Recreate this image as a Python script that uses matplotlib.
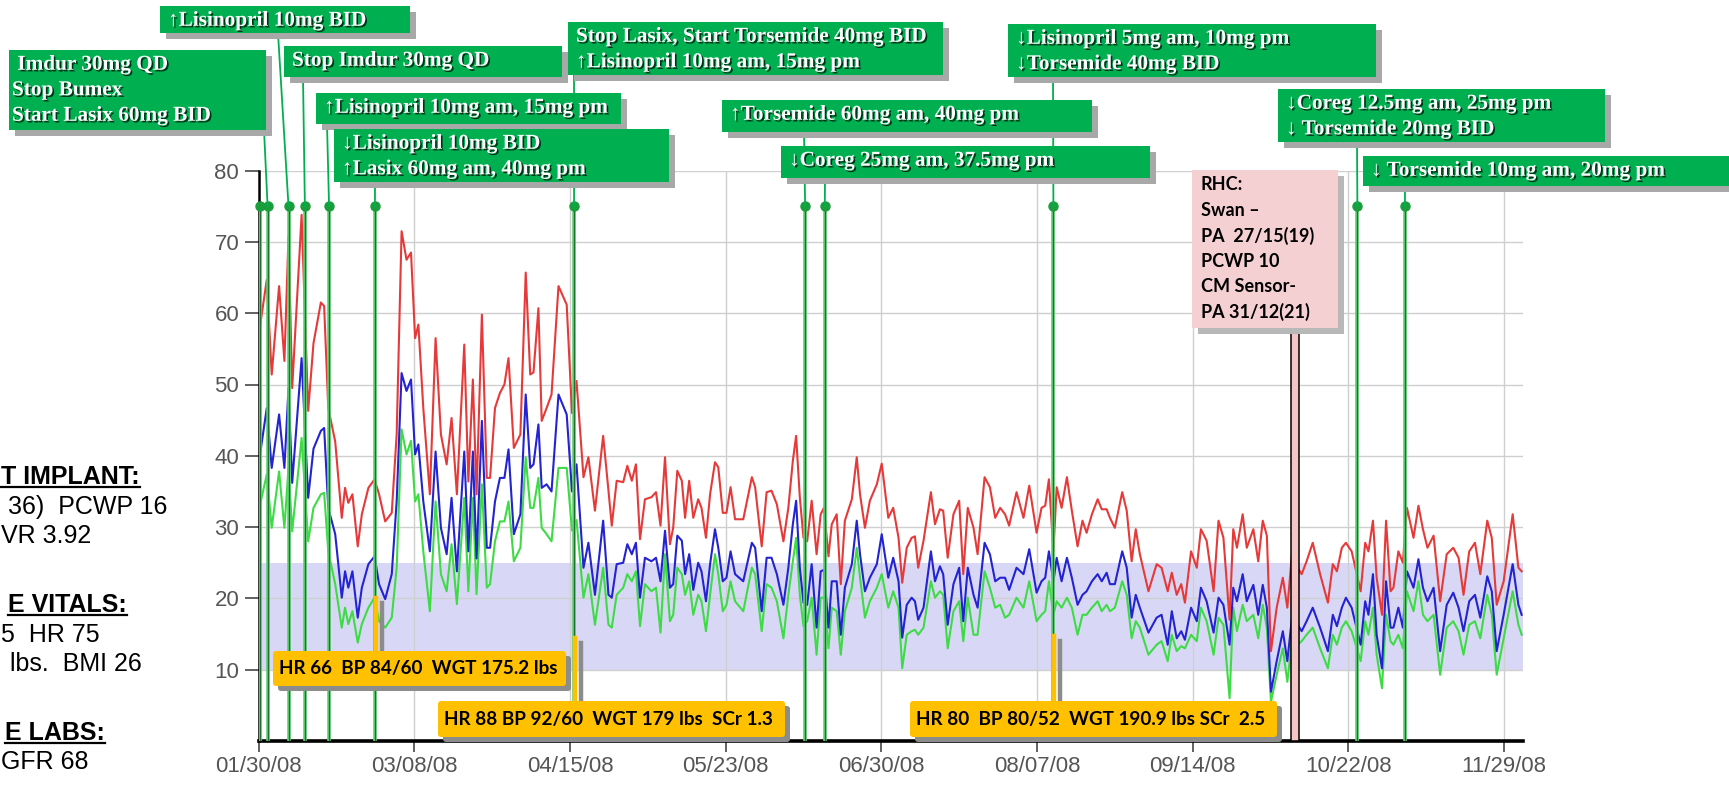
import numpy as np
import matplotlib
matplotlib.use("Agg")
import matplotlib.pyplot as plt
from matplotlib.patches import FancyBboxPatch, Rectangle
from matplotlib.lines import Line2D
from matplotlib.transforms import IdentityTransform
import matplotlib.patheffects as pe

# days after 01/30/08 and the three pressure traces
day = [0.3, 2.0, 3.2, 5.0, 6.3, 7.3, 8.2, 10.5, 12.1, 13.4, 15.2, 16.0, 17.0, 18.7, 20.3, 21.1, 21.9, 22.9,
       24.2, 25.2, 26.8, 28.3, 29.4, 30.9, 32.5, 33.7, 34.9, 36.1, 37.2, 38.2, 39.0, 40.2, 41.8, 43.2, 44.5,
       45.9, 47.1, 48.4, 50.2, 51.2, 52.3, 53.2, 54.5, 55.7, 56.5, 57.7, 58.9, 60.0, 61.0, 62.3, 63.9, 65.2,
       66.3, 67.1, 68.3, 69.1, 70.3, 71.5, 73.2, 75.2, 76.5, 77.6,
       79.3, 80.5, 82.1, 84.1, 85.4, 86.2, 87.4, 89.0, 90.0, 91.1, 92.1, 93.1, 94.3, 95.9, 97.0, 98.1, 99.2,
       100.4, 101.2, 102.2, 103.3, 104.1, 105.1, 106.1, 107.3, 108.1, 109.2, 110.2, 111.4, 112.2, 113.3,
       114.2, 115.2, 116.3, 118.3, 120.4, 121.2, 122.8, 124.0, 125.2, 126.5, 128.1, 129.3, 130.4, 131.2,
       132.1, 133.0, 133.9, 135.0, 136.2, 137.2, 138.0, 139.1, 139.9, 141.1, 142.1, 143.1, 144.8, 146.0,
       146.8, 148.0, 149.2, 150.9, 152.1,
       153.7, 154.9, 156.2, 157.1, 158.2, 159.4, 160.2, 161.0, 162.3, 164.1, 165.1, 166.3, 167.1, 168.2,
       169.6, 171.0, 172.0, 173.1, 174.5, 175.5, 177.2, 178.5, 179.8, 181.0, 182.2, 183.2, 185.0, 186.7,
       188.1, 189.9, 191.1, 192.0, 192.9, 194.0, 194.8, 196.0, 197.3, 198.5, 199.9, 201.1, 202.1, 203.4,
       204.8, 205.8, 207.0, 207.8, 209.0, 210.8, 211.9, 213.1, 214.1, 215.1, 217.2, 219.2, 220.4, 221.9,
       222.9, 224.1, 225.2, 226.1, 227.6, 229.0, 230.0,
       231.4, 233.1, 234.3, 235.5, 237.0, 237.9, 238.8, 240.2, 241.2, 242.8, 244.0, 245.1, 246.1, 247.1,
       248.5, 250.0, 251.1, 252.4, 253.6, 254.6, 255.8, 257.3, 259.1, 261.0, 262.2, 263.2, 264.4, 265.4,
       266.8, 269.0, 270.1, 270.9, 272.0, 272.9, 274.2, 275.2, 276.3, 277.0, 278.2, 279.3, 280.3, 281.9,
       283.1, 284.2, 285.3, 286.8, 288.4, 290.0, 291.6, 292.9, 294.1, 295.5, 296.9, 298.2, 299.9, 301.0,
       302.2, 303.9, 306.1, 307.5, 308.3]

red = [58, 64.7, 51.4, 63.8, 53.3, 70.8, 49.5, 73.8, 46.3, 55.8, 61.5, 61, 46.7, 42, 31.3, 35.5, 33.4, 34.6,
       27.3, 31.8, 35.5, 36.7, 34.6, 30.8, 32, 43, 71.5, 67.5, 68.5, 56.5, 58.4, 46.7, 34.6, 56.5, 43,
       38.8, 45.3, 34.6, 55.6, 36.4, 50.7, 34.6, 59.8, 36.9, 36.9, 46.7, 48.8, 50, 53.7, 41.1, 43, 65.7,
       51.4, 51.7, 60.7, 44.9, 46.7, 48.6, 63.8, 61.2, 46, 50.5,
       37, 39.8, 32.3, 42.8, 35.1, 30.2, 36.5, 36.3, 38.6, 36.5, 38.8, 28.3, 33.9, 34.2, 34.9, 30.2, 39.8,
       27.6, 29.9, 37.9, 36.5, 31.3, 36.5, 31.3, 33.9, 32.7, 28.5, 34.6, 39.1, 38.4, 32,
       32, 35.6, 31.1, 31.1, 37, 35.6, 27.3, 34.9, 35.1, 33.2, 28, 32.7, 39.3, 42.8,
       34.2, 28.5, 28, 33.7, 26.2, 31.8, 32.7, 25.9, 30.4, 31.8, 22, 30.9, 33.9, 39.8,
       34.6, 29.9, 33.7, 36, 38.9,
       31.3, 32.7, 28.5, 22.2, 27.1, 28.5, 28.7, 24.3, 28.1, 34.9, 30.4, 32.5, 32.3, 25.7,
       31.8, 33.7, 23.4, 32.7, 29.9, 26.2, 37, 35.6, 31.3, 32.7, 31.8, 30.2, 34.9, 31.3,
       35.8, 29.2, 32.7, 33, 36.7, 26.6, 35.6, 32.7, 37, 32.3, 27.3, 30.9, 29.2, 31.8,
       33.9, 32.5, 32.5, 31.3, 29.9, 34.9, 32.3, 25.2, 29.7, 26.2, 21, 24.8, 24.3, 21,
       23.6, 20.5, 22, 19.4, 26.6, 24.3, 29.7,
       28.1, 21, 30.9, 28.5, 17, 29.7, 27.1, 31.8, 27.1, 29.7, 25.2, 30.9, 28.8, 12.6,
       18.7, 22.9, 18.7, 27.3, 24.3, 23.4, 25.2, 27.8, 23.4, 19.4, 24.8, 23.8, 27.1, 27.8,
       26.6, 21, 27.8, 26.6, 30.9, 22.9, 17.7, 30.9, 21, 21.5, 26.6, 25, 32.7, 28.5,
       33, 29.7, 27.1, 28.8, 19.6, 26.2, 27.1, 25.7, 20.5, 26.6, 27.8, 23.4, 30.9, 28.5,
       19.1, 22.4, 31.8, 24.3, 23.8]

blue = [40, 46.7, 38.3, 45.8, 38.3, 49.5, 36.2, 53.7, 34.1, 41, 43.5, 43.9, 32.7, 29, 20.1, 23.8, 21.5, 23.8,
        17.3, 21.5, 24.8, 25.9, 22, 19.9, 23.4, 33.6, 51.6, 49.1, 50.7, 40.2, 41.6, 33.6, 26.6, 40.6, 29.9,
        26.2, 34.1, 23.8, 40.6, 26.6, 40.6, 25.6, 44.9, 27.1, 27.1, 33.6, 36.9, 36.9, 40.9, 29, 31.8, 48.6,
        38.3, 38.8, 44.4, 35.5, 36, 35, 48.6, 45.8, 35, 38.8,
        24.3, 27.8, 20.5, 30.9, 20.5, 20.1, 24.8, 25, 27.6, 26.2, 27.8, 20.1, 25.7, 25.2, 25.7, 22.4, 29.5,
        21.5, 22, 28.8, 28.1, 23.4, 26.2, 21.2, 25, 23.8, 19.6, 24.8, 29.7, 27.1, 22.4,
        22.9, 26.6, 23.4, 22.4, 27.8, 27.1, 18.2, 25.7, 25.7, 23.4, 19.1, 24.3, 30.4, 33.7,
        24.3, 19.4, 19.1, 24.8, 15.9, 23.8, 24, 15.9, 22.4, 22.4, 14.9, 21.5, 24.8, 30.9,
        26.2, 21, 22.9, 24.8, 29,
        22.9, 25.7, 22.4, 14.5, 19.1, 20.1, 19.6, 17, 18.7, 26.6, 22.4, 24.5, 23.4, 16.3,
        22, 24.3, 16.8, 24.3, 20.5, 18.7, 27.8, 26.2, 22.4, 22.9, 22.9, 21.2, 24.3, 23.4,
        26.9, 20.8, 22.4, 22.9, 26.6, 22.4, 25.7, 22.4, 25.7, 22.9, 19.1, 20.5, 21, 22.4,
        23.4, 22.4, 23.6, 22, 22, 26.6, 24.3, 17.3, 20.5, 18.7, 15.2, 17.3, 17.7, 13.5,
        18.2, 14.4, 15.4, 14.2, 18.7, 16.8, 21.5,
        19.6, 15.2, 20.1, 19.1, 13.5, 21.5, 19.6, 23.4, 19.6, 21.9, 17.7, 21.9, 18.7, 6.9,
        11.2, 15.4, 11.2, 18.2, 16.3, 15.4, 16.8, 18.7, 15.9, 12.6, 17.7, 16.1, 18.7, 20.1,
        18.7, 13.5, 19.6, 17.7, 23.4, 14.9, 10.2, 22.4, 15.9, 15.9, 18.7, 15.9, 23.8, 21.5,
        25.5, 21.5, 19.6, 21.5, 12.6, 19.1, 20.8, 18.7, 15.4, 19.6, 20.5, 17.3, 23.1, 21,
        12.6, 17.7, 24.8, 19.1, 17.7]

green = [33, 37.4, 29.9, 37.8, 29.9, 38.3, 29.4, 42.5, 28, 32.7, 34.6, 34.8, 26.6, 22, 15.9, 18.7, 16.4, 18.2,
         13.8, 16.4, 18.7, 20.1, 16.8, 15.9, 17.3, 24.3, 43.7, 40.2, 42.1, 33.6, 34.6, 26.6, 18.2, 33.6, 23.4,
         21, 27.6, 19.2, 34.1, 21, 34.1, 20.6, 36, 21.5, 22, 28, 30.8, 30.8, 33.6, 25.2, 27.1, 39.8,
         32.7, 32.7, 36.9, 29.9, 29, 28, 38.3, 38.3, 29.5, 31,
         20.1, 23.4, 16.3, 24.3, 16.3, 15.9, 20.5, 21.5, 23.4, 22.4, 23.8, 16.1, 22, 21, 21.5, 15.2, 26.2,
         16.8, 17.7, 24.3, 23.4, 20.5, 22.4, 17.7, 20.5, 19.6, 15.4, 20.5, 26.2, 23.4, 18.2,
         19.1, 22.4, 19.6, 18.2, 24.3, 23.4, 15.4, 22, 21.5, 19.6, 14.4, 20.5, 25.2, 28.5,
         20.5, 16.1, 16.8, 20.1, 12.1, 20.1, 20.1, 13, 18.7, 18.2, 12.1, 18.2, 21.5, 27.1,
         22.9, 17.3, 19.6, 21.5, 23.4,
         18.7, 21, 18.7, 10.2, 14.9, 15.4, 15.6, 14.9, 15.9, 22.4, 20.1, 21, 20.5, 13,
         18.2, 19.6, 14, 20.1, 14.9, 14.9, 23.8, 21.5, 18.7, 19.1, 17.3, 17.7, 20.1, 18.7,
         22.4, 16.8, 17.7, 18.2, 22.4, 17.7, 19.6, 18.7, 20.1, 18.7, 14.9, 17.7, 17.7, 18.7,
         19.6, 18.2, 19.1, 18.2, 18.7, 22.4, 20.5, 14.4, 16.8, 15.9, 12.1, 13.5, 14, 11.2,
         14.9, 12.6, 13.3, 13, 14.9, 14, 18.7,
         16.8, 12.1, 17.3, 16.3, 6, 18.7, 15.4, 19.1, 16.8, 17.7, 14.4, 19.1, 15.9, 5.5,
         9.3, 13, 8.3, 14.9, 13.5, 14, 14.9, 15.9, 13, 10.2, 14.9, 13.5, 15.9, 16.8,
         15.4, 11.2, 16.8, 14.9, 18.7, 12.1, 7.4, 17.7, 14, 13.5, 14.9, 13, 21, 18.2,
         22.4, 17.7, 16.8, 17.7, 9.3, 15.9, 16.8, 15.4, 12.1, 16.3, 16.8, 14.4, 20.5, 17.7,
         9.3, 14.4, 21, 16.3, 14.9]

tick_days = [0, 38, 76, 114, 152, 190, 228, 266, 304]
tick_labels = ["01/30/08", "03/08/08", "04/15/08", "05/23/08", "06/30/08",
               "08/07/08", "09/14/08", "10/22/08", "11/29/08"]
event_days = [0.4, 2.2, 7.3, 11.3, 17.2, 28.4, 77.0, 133.4, 138.2, 194.0, 268.2, 279.8]
rhc_days = [252.0, 254.0]

med_notes = [
    [" Imdur 30mg QD", "Stop Bumex", "Start Lasix 60mg BID"],
    ["↑Lisinopril 10mg BID"],
    ["Stop Imdur 30mg QD"],
    ["↑Lisinopril 10mg am, 15mg pm"],
    ["↓Lisinopril 10mg BID", "↑Lasix 60mg am, 40mg pm"],
    ["Stop Lasix, Start Torsemide 40mg BID", "↑Lisinopril 10mg am, 15mg pm"],
    ["↑Torsemide 60mg am, 40mg pm"],
    ["↓Coreg 25mg am, 37.5mg pm"],
    ["↓Lisinopril 5mg am, 10mg pm", "↓Torsemide 40mg BID"],
    ["↓Coreg 12.5mg am, 25mg pm", "↓ Torsemide 20mg BID"],
    ["↓ Torsemide 10mg am, 20mg pm"],
]
vitals_notes = ["HR 66  BP 84/60  WGT 175.2 lbs",
                "HR 88 BP 92/60  WGT 179 lbs  SCr 1.3",
                "HR 80  BP 80/52  WGT 190.9 lbs SCr  2.5"]
vitals_points = [(28.7, 20.0), (77.2, 14.4), (194.1, 14.7)]
rhc_note = ["RHC:", "Swan \u2013", "PA  27/15(19)", "PCWP 10", "CM Sensor-", "PA 31/12(21)"]
side_notes = [("T IMPLANT:", True), ("36)  PCWP 16", False), ("VR 3.92", False),
              ("E VITALS:", True), ("5  HR 75", False), ("lbs.  BMI 26", False),
              ("E LABS:", True), ("GFR 68", False)]

W, H = 1729, 792
ID = IdentityTransform()
fig = plt.figure(figsize=(W / 100, H / 100), dpi=100)
fig.patch.set_facecolor("white")
ax = fig.add_axes([258.6 / W, 51 / H, 1263.9 / W, 570.4 / H])
ax.set_xlim(0, 308.5)
ax.set_ylim(0, 80)

ax.axhspan(10, 25, color="#d8d8f6", zorder=0.3, lw=0)
ax.grid(True, color="#cfcfcf", lw=1.0)
ax.set_axisbelow(True)
ax.plot(day, green, color="#3ddc45", lw=1.5, zorder=2)
ax.plot(day, blue, color="#2323d2", lw=1.5, zorder=2.1)
ax.plot(day, red, color="#e63a3a", lw=1.5, zorder=2.2)

ax.vlines(event_days, 0, 75, color="#5fcf72", lw=2.6, zorder=4)
ax.vlines(event_days, 0, 75, color="#1f6f2f", lw=0.9, zorder=4.1)
ax.plot(event_days, [75] * len(event_days), "o", color="#1a9e3c", ms=6.5, zorder=5, clip_on=False)

ax.set_xticks(tick_days)
ax.set_xticklabels(tick_labels)
ax.set_yticks(range(10, 81, 10))
ax.tick_params(axis="x", length=8, width=1.3, pad=3, colors="#555555", labelsize=16)
ax.tick_params(axis="y", length=10, width=1.3, pad=4, colors="#555555", labelsize=16)
for lab in ax.get_xticklabels() + ax.get_yticklabels():
    lab.set_fontfamily("Liberation Sans")
for s in ("top", "right"):
    ax.spines[s].set_visible(False)
ax.spines["left"].set_linewidth(1.8)
ax.spines["bottom"].set_linewidth(2.6)


def to_px(d, v):
    xd, yd = ax.transData.transform((d, v))
    return xd, H - yd


def box(x0, y0, x1, y1, color, shadow, off=6, rnd=0, z=10):
    style = "round,pad=0,rounding_size=%d" % rnd if rnd else "square,pad=0"
    for dx, c in ((off, shadow), (0, color)):
        fig.add_artist(FancyBboxPatch((x0 + dx, H - y1 - dx), x1 - x0, y1 - y0, boxstyle=style,
                                      transform=ID, fc=c, ec="none", zorder=z))


def line(xs, ys, color, lw, z):
    fig.add_artist(Line2D(xs, [H - y for y in ys], transform=ID, color=color, lw=lw, zorder=z))


# green medication boxes: x0, y0, x1, y1, leader x, event index
green_layout = [(9, 50, 266, 130, 264, 1), (160, 6, 410, 33, 278, 2), (284, 46, 562, 77, 303, 3),
                (316, 93, 621, 124, 327, 4), (334, 129, 669, 182, 375, 5), (568, 22, 943, 75, 574, 6),
                (722, 100, 1092, 132, 804, 7), (781, 146, 1150, 178, 825, 8),
                (1008, 24, 1376, 77, 1053, 9), (1278, 89, 1605, 142, 1357, 10),
                (1363, 156, 1760, 186, 1405, 11)]
shadow_txt = [pe.withSimplePatchShadow(offset=(1.2, -1.2), shadow_rgbFace="black", alpha=0.7)]
for lines_, (x0, y0, x1, y1, lx, ei) in zip(med_notes, green_layout):
    ex, ey = to_px(event_days[ei], 75)
    line([lx, ex], [y1, ey], "#00b050", 1.3, 9)
    box(x0, y0, x1, y1, "#00b050", "#a8a8a8")
    tx = x0 + (3 if ei == 1 else 8)
    for i, s in enumerate(lines_):
        fig.text(tx, H - (y0 + 2 + 25.5 * (i + 0.5)), s, transform=ID, ha="left", va="center",
                 color="white", fontsize=15.3, fontweight="bold",
                 family=["Liberation Serif", "DejaVu Serif"], path_effects=shadow_txt, zorder=11)

# RHC pink box and band
px0, py0, px1, py1 = 1192, 170, 1338, 328
bx0, _ = to_px(rhc_days[0], 0)
bx1, by = to_px(rhc_days[1], 0)
fig.add_artist(Rectangle((bx0, H - by), bx1 - bx0, by - py1, transform=ID, fc="#f5c4c4",
                         ec="black", lw=1.1, zorder=8))
box(px0, py0, px1, py1, "#f5d0d2", "#b8b8b8")
for i, s in enumerate(rhc_note):
    fig.text(px0 + 9, H - (py0 + 15 + 25.4 * i), s, transform=ID, ha="left", va="center",
             color="black", fontsize=13, fontweight="bold", family="Lato", zorder=11)

# orange vitals boxes
orange_layout = [(273, 651, 566, 686), (438, 701, 785, 737), (910, 701, 1277, 737)]
for s, (d, v), (x0, y0, x1, y1) in zip(vitals_notes, vitals_points, orange_layout):
    vx, vy = to_px(d, v)
    line([vx + 6, vx + 6], [vy + 5, y0 + 4], "#8c8c8c", 3.2, 11.5)
    line([vx, vx], [vy, y0 + 1], "#ffc000", 3.2, 11.6)
    box(x0, y0, x1, y1, "#ffc000", "#8c8c8c", off=5, rnd=3, z=12)
    fig.text(x0 + 6, H - (y0 + y1) / 2, s, transform=ID, ha="left", va="center",
             color="black", fontsize=13.6, fontweight="bold", family="Lato", zorder=13)

# left-hand summary text, hugging the page edge; kept fully inside the picture
side_right = [140, 167, 83, 127, 93, 142, 105, 77]
side_y = [477, 507, 536, 605, 635, 664, 733, 762]
renderer = fig.canvas.get_renderer()
for (s, head), xr, yc in zip(side_notes, side_right, side_y):
    t = fig.text(xr, H - yc, s, transform=ID, ha="right", va="center", color="black",
                 fontsize=18, fontweight="bold" if head else "normal", family="Liberation Sans")
    bb = t.get_window_extent(renderer)
    if bb.x0 < 1:
        t.set_ha("left")
        t.set_x(1)
        bb = t.get_window_extent(renderer)
    if head:
        line([bb.x0, bb.x1], [H - bb.y0 - 2, H - bb.y0 - 2], "black", 1.6, 3)

fig.savefig("out.png", dpi=100)
